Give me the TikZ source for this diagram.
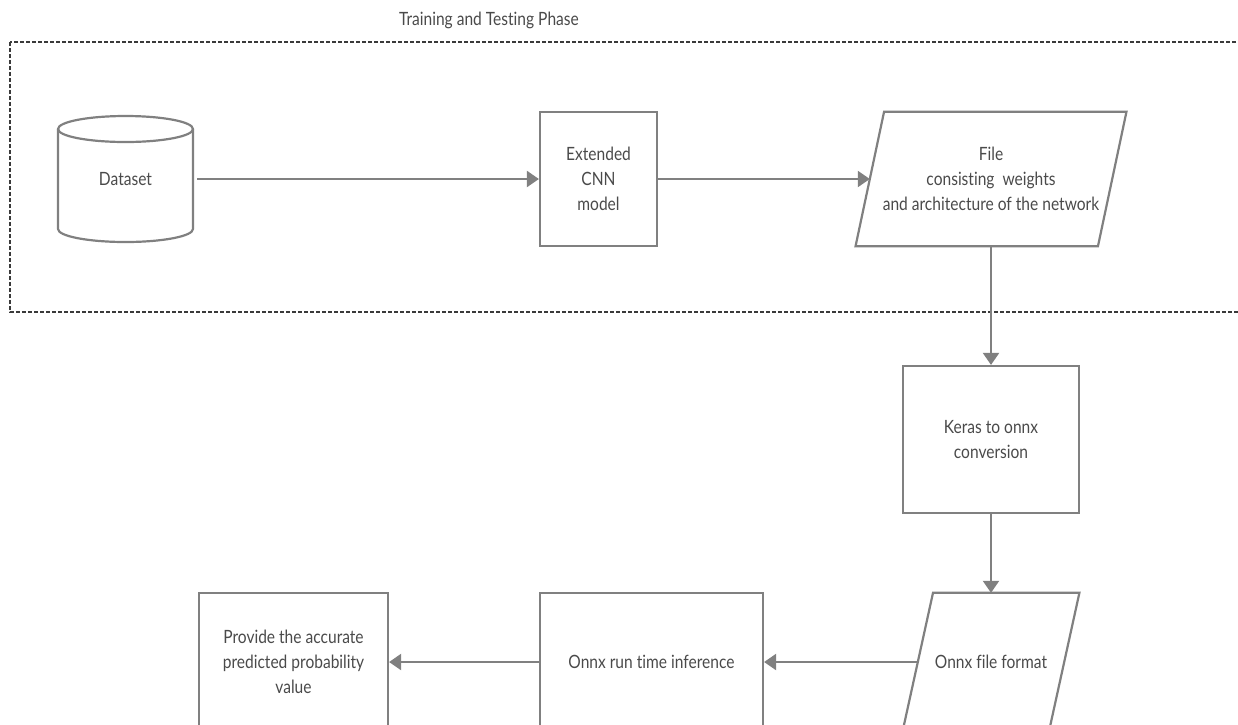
\documentclass[tikz,border=0pt]{standalone}
\usepackage{fontspec}
\setmainfont{Lato}[FakeStretch=0.85, Ligatures={NoCommon}]
\usetikzlibrary{arrows.meta}
\definecolor{linec}{HTML}{808080}
\definecolor{textc}{HTML}{4A4A4A}
\definecolor{dashc}{HTML}{3A3A3A}
\begin{document}
\begin{tikzpicture}[x=1pt,y=-1pt,
  every node/.style={font=\fontsize{18.3}{25}\selectfont, text=textc, align=center, inner sep=0pt},
  ln/.style={draw=linec, line width=2.2pt},
  box/.style={draw=linec, line width=2.2pt},
  arr/.style={draw=linec, line width=2.2pt, -{Triangle[length=12pt,width=16pt]}},
  phase/.style={draw=dashc, line width=1.3pt, dash pattern=on 4pt off 2pt}]
\useasboundingbox (0,0) rectangle (1238,724);
\clip (0,0) rectangle (1238,724);

\node (title) at (489,20) {Training and Testing Phase};
\draw[phase] (10,42) rectangle (1262,312);

% Dataset cylinder
\node (data) [minimum width=135pt, minimum height=126pt] at (125.5,179) {Dataset};
\draw[ln] (58,129) -- (58,229) arc[start angle=180, end angle=0, x radius=67.5, y radius=13] -- (193,129);
\draw[ln] (125.5,129) ellipse[x radius=67.5, y radius=13];

\node (cnn) [box, minimum width=117pt, minimum height=134pt] at (598.5,179) {Extended\\CNN\\model};

\node (file) [minimum width=242pt, minimum height=134pt] at (991,179) {File\\consisting\ \ weights\\and architecture of the network};
\draw[ln] ([xshift=14.25pt]file.north west) -- ([xshift=14.25pt]file.north east) -- ([xshift=-14.25pt]file.south east) -- ([xshift=-14.25pt]file.south west) -- cycle;

\node (keras) [box, minimum width=176pt, minimum height=147pt] at (991,439.5) {Keras to onnx\\conversion};

\node (onnxf) [minimum width=146pt, minimum height=138pt] at (991,662) {Onnx file format};
\draw[ln] ([xshift=15.2pt]onnxf.north west) -- ([xshift=15.2pt]onnxf.north east) -- ([xshift=-15.2pt]onnxf.south east) -- ([xshift=-15.2pt]onnxf.south west) -- cycle;

\node (run) [box, minimum width=223pt, minimum height=138pt] at (651.5,662) {Onnx run time inference};
\node (prov) [box, minimum width=189pt, minimum height=138pt] at (293.5,662) {Provide the accurate\\predicted probability\\value};

\draw[arr, shorten <=4pt] (data.east) -- (cnn.west);
\draw[arr] (cnn.east) -- (file.west);
\draw[arr] (file.south) -- (keras.north);
\draw[arr] (keras.south) -- (onnxf.north);
\draw[arr] (onnxf.west) -- (run.east);
\draw[arr] (run.west) -- (prov.east);
\end{tikzpicture}
\end{document}
